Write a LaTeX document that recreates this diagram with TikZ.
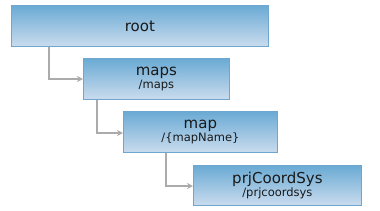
\documentclass[tikz,border=0pt]{standalone}
\usepackage{fontspec}
\setmainfont{DejaVu Sans}
\usetikzlibrary{arrows.meta,positioning}
\definecolor{boxtop}{HTML}{6AAAD4}
\definecolor{boxbot}{HTML}{CADCEE}
\definecolor{boxline}{HTML}{6FA6CF}
\definecolor{conn}{HTML}{ABABAB}
\newcommand{\ttlfont}{\fontsize{15}{15}\selectfont}
\newcommand{\subfont}{\fontsize{11.5}{11.5}\selectfont}
\begin{document}
\begin{tikzpicture}[x=1pt,y=-1pt,
  box/.style={draw=boxline, line width=0.8pt, top color=boxtop, bottom color=boxbot, inner sep=0pt, anchor=north west, align=center, text=black!90},
  conn/.style={draw=conn, line width=1.4pt, -{Stealth[length=6pt,width=6pt]}}]
\useasboundingbox (0,0) rectangle (380,210);
\node[box, minimum width=257pt, minimum height=41pt] (root) at (11,5) {\ttlfont root};
\node[box, minimum width=146pt, minimum height=41pt] (maps) at (83,58) {\ttlfont maps\\[0.5pt]\subfont /maps};
\node[box, minimum width=154pt, minimum height=41pt] (map) at (123,111) {\ttlfont map\\[0.5pt]\subfont /\{mapName\}};
\node[box, minimum width=168pt, minimum height=40pt] (prj) at (193,165) {\ttlfont prjCoordSys\\[0.5pt]\subfont /prjcoordsys};
\coordinate (c1) at (49,0);
\coordinate (c2) at (97,0);
\coordinate (c3) at (166,0);
\draw[conn] (root.south -| c1) |- (maps.west |- 0,79);
\draw[conn] (maps.south -| c2) |- (map.west |- 0,133);
\draw[conn] (map.south -| c3) |- (prj.west |- 0,186);
\end{tikzpicture}
\end{document}
